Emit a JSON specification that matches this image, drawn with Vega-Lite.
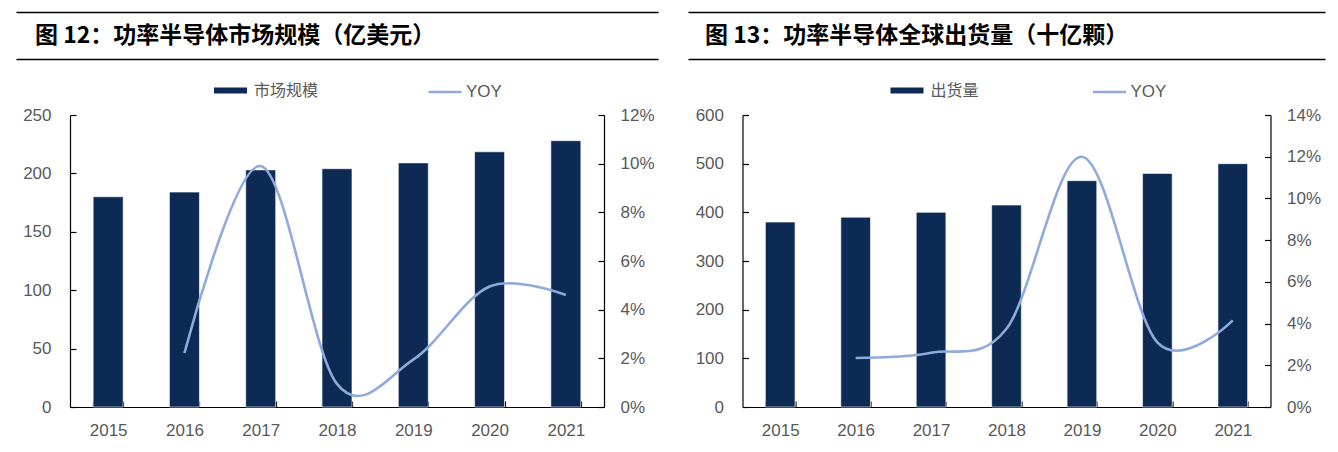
{
  "$schema": "https://vega.github.io/schema/vega-lite/v6.json",
  "background": "white",
  "padding": {"left": 16, "top": 12, "right": 8, "bottom": 0},
  "config": {
    "view": {"stroke": null},
    "font": "Liberation Sans",
    "axis": {
      "labelFont": "Liberation Sans",
      "labelFontSize": 17,
      "labelColor": "#595959",
      "domainColor": "#000000",
      "domainWidth": 1.2,
      "tickColor": "#000000",
      "tickWidth": 1.2,
      "grid": false,
      "title": null
    }
  },
  "datasets": {
    "market": [
      {"year": "2015", "value": 180, "yoy": null},
      {"year": "2016", "value": 184, "yoy": 0.0222},
      {"year": "2017", "value": 203, "yoy": 0.099},
      {"year": "2018", "value": 204, "yoy": 0.0095},
      {"year": "2019", "value": 209, "yoy": 0.0195},
      {"year": "2020", "value": 218.5, "yoy": 0.0495},
      {"year": "2021", "value": 228, "yoy": 0.046}
    ],
    "ship": [
      {"year": "2015", "value": 380, "yoy": null},
      {"year": "2016", "value": 390, "yoy": 0.0235},
      {"year": "2017", "value": 400, "yoy": 0.026},
      {"year": "2018", "value": 415, "yoy": 0.0375},
      {"year": "2019", "value": 465, "yoy": 0.12},
      {"year": "2020", "value": 480, "yoy": 0.031},
      {"year": "2021", "value": 500, "yoy": 0.0415}
    ],
    "t1": [{"title": "图 12：功率半导体市场规模（亿美元）"}],
    "t2": [{"title": "图 13：功率半导体全球出货量（十亿颗）"}]
  },
  "spacing": 30,
  "resolve": {"scale": {"fill": "independent", "stroke": "independent"}},
  "hconcat": [
    {
      "center": true,
      "bounds": "flush",
      "spacing": 56,
      "resolve": {"scale": {"fill": "independent", "stroke": "independent"}},
      "vconcat": [
        {
          "width": 642,
          "height": 47,
          "data": {"name": "t1"},
          "mark": {"type": "text", "align": "left", "baseline": "middle", "dx": 19, "font": "Noto Sans CJK SC", "fontWeight": "bold", "fontSize": 23, "color": "#000000"},
          "encoding": {
            "text": {"field": "title", "type": "nominal"},
            "x": {"datum": 0, "type": "quantitative", "scale": {"domain": [0, 1]}, "axis": null},
            "y": {"datum": 0.5, "type": "quantitative", "scale": {"domain": [0, 1]}, "axis": {"values": [0, 1], "grid": true, "gridColor": "#000000", "gridWidth": 1.3, "labels": false, "ticks": false, "domain": false}}
          }
        },
        {
          "width": 534,
          "height": 292,
          "data": {"name": "market"},
          "encoding": {
            "x": {"field": "year", "type": "ordinal", "scale": {"paddingInner": 0.607, "paddingOuter": 0.3035}, "axis": {"labelAngle": 0, "tickBand": "extent", "tickSize": -6, "labelPadding": 21}}
          },
          "layer": [
            {
              "mark": {"type": "bar", "stroke": "#ffffff", "strokeWidth": 0.6},
              "encoding": {
                "y": {"field": "value", "type": "quantitative", "scale": {"domain": [0, 250]}, "axis": {"values": [0, 50, 100, 150, 200, 250], "tickSize": -6, "labelPadding": 25}},
                "fill": {"datum": "市场规模", "type": "nominal", "scale": {"range": ["#0C2A54"]}, "legend": {"orient": "none", "legendX": 144, "legendY": -41, "title": null, "padding": 0, "symbolType": "M-1,-0.18H1V0.18H-1Z", "symbolSize": 1089, "symbolStrokeWidth": 0, "labelFont": "Noto Sans CJK SC", "labelFontSize": 16, "labelColor": "#595959", "labelOffset": 7}}
              }
            },
            {
              "transform": [{"filter": "datum.yoy != null"}],
              "mark": {"type": "line", "interpolate": "cardinal", "tension": 0, "strokeWidth": 2.6},
              "encoding": {
                "y": {"field": "yoy", "type": "quantitative", "scale": {"domain": [0, 0.12]}, "axis": {"orient": "right", "values": [0, 0.02, 0.04, 0.06, 0.08, 0.1, 0.12], "format": ".0%", "tickSize": -6, "labelPadding": 22}},
                "stroke": {"datum": "YOY", "type": "nominal", "scale": {"range": ["#8FAADC"]}, "legend": {"orient": "none", "legendX": 357, "legendY": -41, "title": null, "padding": 0, "symbolType": "stroke", "symbolSize": 1089, "symbolStrokeWidth": 2.6, "labelFont": "Liberation Sans", "labelFontSize": 17, "labelColor": "#595959", "labelOffset": 3}}
              }
            }
          ],
          "resolve": {"scale": {"y": "independent"}}
        }
      ]
    },
    {
      "center": true,
      "bounds": "flush",
      "spacing": 56,
      "resolve": {"scale": {"fill": "independent", "stroke": "independent"}},
      "vconcat": [
        {
          "width": 637,
          "height": 47,
          "data": {"name": "t2"},
          "mark": {"type": "text", "align": "left", "baseline": "middle", "dx": 17, "font": "Noto Sans CJK SC", "fontWeight": "bold", "fontSize": 23, "color": "#000000"},
          "encoding": {
            "text": {"field": "title", "type": "nominal"},
            "x": {"datum": 0, "type": "quantitative", "scale": {"domain": [0, 1]}, "axis": null},
            "y": {"datum": 0.5, "type": "quantitative", "scale": {"domain": [0, 1]}, "axis": {"values": [0, 1], "grid": true, "gridColor": "#000000", "gridWidth": 1.3, "labels": false, "ticks": false, "domain": false}}
          }
        },
        {
          "width": 528,
          "height": 292,
          "data": {"name": "ship"},
          "encoding": {
            "x": {"field": "year", "type": "ordinal", "scale": {"paddingInner": 0.607, "paddingOuter": 0.3035}, "axis": {"labelAngle": 0, "tickBand": "extent", "tickSize": -6, "labelPadding": 21}}
          },
          "layer": [
            {
              "mark": {"type": "bar", "stroke": "#ffffff", "strokeWidth": 0.6},
              "encoding": {
                "y": {"field": "value", "type": "quantitative", "scale": {"domain": [0, 600]}, "axis": {"values": [0, 100, 200, 300, 400, 500, 600], "tickSize": -6, "labelPadding": 25}},
                "fill": {"datum": "出货量", "type": "nominal", "scale": {"range": ["#0C2A54"]}, "legend": {"orient": "none", "legendX": 148, "legendY": -41, "title": null, "padding": 0, "symbolType": "M-1,-0.18H1V0.18H-1Z", "symbolSize": 1089, "symbolStrokeWidth": 0, "labelFont": "Noto Sans CJK SC", "labelFontSize": 16, "labelColor": "#595959", "labelOffset": 7}}
              }
            },
            {
              "transform": [{"filter": "datum.yoy != null"}],
              "mark": {"type": "line", "interpolate": "cardinal", "tension": 0, "strokeWidth": 2.6},
              "encoding": {
                "y": {"field": "yoy", "type": "quantitative", "scale": {"domain": [0, 0.14]}, "axis": {"orient": "right", "values": [0, 0.02, 0.04, 0.06, 0.08, 0.1, 0.12, 0.14], "format": ".0%", "tickSize": -6, "labelPadding": 22}},
                "stroke": {"datum": "YOY", "type": "nominal", "scale": {"range": ["#8FAADC"]}, "legend": {"orient": "none", "legendX": 349, "legendY": -41, "title": null, "padding": 0, "symbolType": "stroke", "symbolSize": 1089, "symbolStrokeWidth": 2.6, "labelFont": "Liberation Sans", "labelFontSize": 17, "labelColor": "#595959", "labelOffset": 3}}
              }
            }
          ],
          "resolve": {"scale": {"y": "independent"}}
        }
      ]
    }
  ]
}
